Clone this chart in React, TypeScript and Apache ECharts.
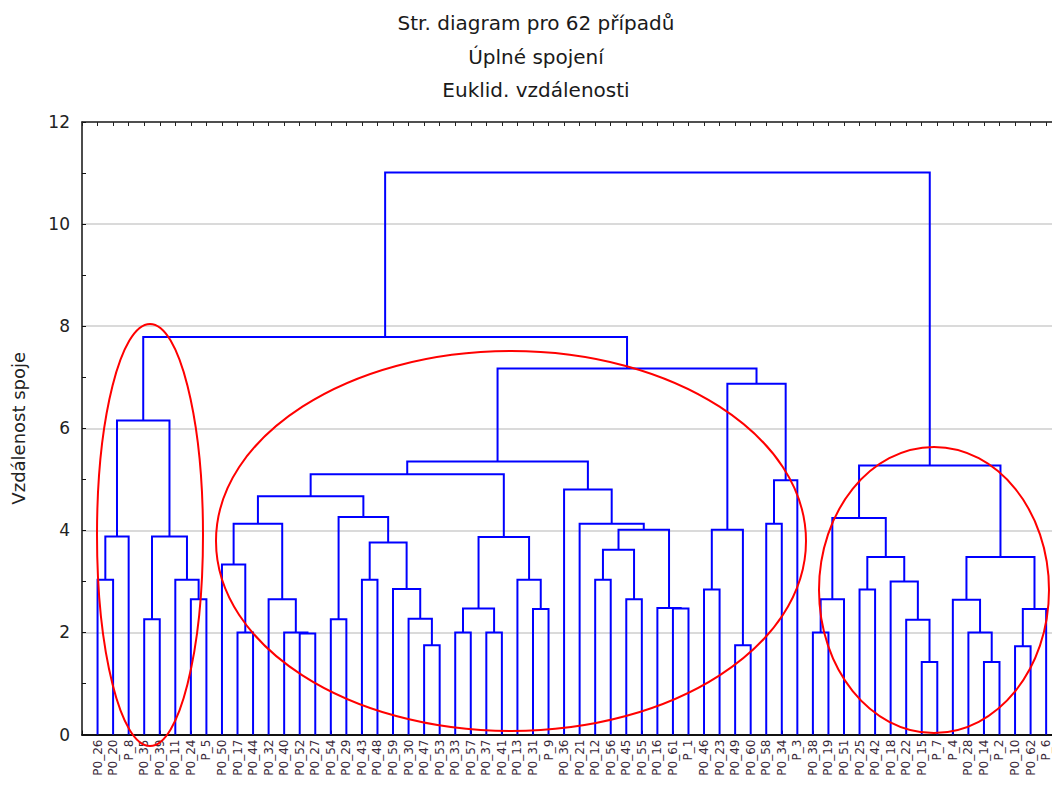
import React, { useEffect, useRef } from "react";
import * as echarts from "echarts";

const titleLines = ["Str. diagram pro 62 případů", "Úplné spojení", "Euklid. vzdálenosti"];
const yAxisName = "Vzdálenost spoje";

// leaf (case) labels in dendrogram order (illegible in the source, estimated)
const leafNumbers = [
  26, 20, 8, 35, 39, 11, 24, 5, 50, 17, 44, 32, 40, 52, 27, 54, 29, 43, 48, 59, 30,
  47, 53, 33, 57, 37, 41, 13, 31, 9, 36, 21, 12, 56, 45, 55, 16, 61, 1, 46, 23,
  49, 60, 58, 34, 3, 38, 19, 51, 25, 42, 18, 22, 15, 7, 4, 28, 14, 2, 10, 62, 6,
];
const leafLabels = leafNumbers.map((n) => (n < 10 ? `P_${n}` : `P0_${n}`));

// merges: nodes 0..61 are leaves (display order), merge k creates node 62 + k
const mergeA = [
  0, 62, 3, 6, 5, 64, 63,
  9, 8, 13, 12, 11, 70, 15, 17, 21, 20, 19, 76, 75, 74,
  23, 25, 83, 28, 27, 85, 82,
  32, 34, 90, 37, 36, 92, 31, 30, 89,
  39, 41, 99, 43, 102, 101, 98, 68,
  46, 107, 49, 53, 52, 51, 109, 108,
  57, 56, 55, 59, 118, 117, 114, 106,
];
const mergeB = [
  1, 2, 4, 7, 65, 66, 67,
  10, 69, 14, 71, 72, 73, 16, 18, 22, 77, 78, 79, 80, 81,
  24, 26, 84, 29, 86, 87, 88,
  33, 35, 91, 38, 93, 94, 95, 96, 97,
  40, 42, 100, 44, 45, 103, 104, 105,
  47, 48, 50, 54, 110, 111, 112, 113,
  58, 115, 116, 60, 61, 119, 120, 121,
];
const mergeHeight = [
  3.03, 3.88, 2.26, 2.65, 3.03, 3.88, 6.15,
  2.0, 3.33, 1.98, 2.0, 2.65, 4.13, 2.26, 3.03, 1.75, 2.27, 2.85, 3.76, 4.26, 4.67,
  2.0, 2.0, 2.47, 2.46, 3.03, 3.87, 5.1,
  3.03, 2.65, 3.62, 2.47, 2.48, 4.01, 4.13, 4.8, 5.35,
  2.84, 1.75, 4.01, 4.13, 4.98, 6.87, 7.17, 7.79,
  2.0, 2.65, 2.84, 1.42, 2.25, 3.0, 3.48, 4.24,
  1.42, 2.0, 2.64, 1.73, 2.46, 3.48, 5.27, 11.01,
];

// highlighted groups (red ellipses), pixel geometry of the annotation
const ellipses = [
  { cx: 150, cy: 535, rx: 53, ry: 211 },
  { cx: 511, cy: 541, rx: 295, ry: 190 },
  { cx: 934, cy: 590, rx: 115, ry: 143 },
];

const FONT = "DejaVu Sans";

export default function App() {
  const ref = useRef<HTMLDivElement>(null);

  useEffect(() => {
    if (!ref.current) return;
    const chart = echarts.init(ref.current, undefined, { renderer: "svg" });

    const nodeX: number[] = leafLabels.map((_, i) => i);
    const nodeH: number[] = leafLabels.map(() => 0);
    const links = mergeA.map((a, k) => {
      const b = mergeB[k];
      const h = mergeHeight[k];
      const coords = [
        [nodeX[a], nodeH[a]],
        [nodeX[a], h],
        [nodeX[b], h],
        [nodeX[b], nodeH[b]],
      ];
      nodeX.push((nodeX[a] + nodeX[b]) / 2);
      nodeH.push(h);
      return { coords };
    });

    const titleY = [23, 56.5, 90];

    chart.setOption({
      animation: false,
      backgroundColor: "#ffffff",
      grid: { left: 82, right: -9.7, top: 122, bottom: 63.5, containLabel: false, outerBoundsMode: "none" },
      xAxis: [
        {
          type: "value",
          position: "bottom",
          min: -1,
          max: 62,
          interval: 1,
          axisLine: { show: true, onZero: false, lineStyle: { color: "#111", width: 2 } },
          axisTick: { show: true, inside: true, length: 4, lineStyle: { color: "#111", width: 1 } },
          splitLine: { show: false },
          axisLabel: {
            show: true,
            rotate: 90,
            margin: 5,
            fontSize: 12,
            fontFamily: FONT,
            color: "#3a2a3a",
            formatter: (v: number) => {
              const i = Math.round(v);
              return i >= 0 && i < leafLabels.length ? leafLabels[i] : "";
            },
          },
        },
        {
          type: "value",
          position: "top",
          min: -1,
          max: 62,
          interval: 1,
          axisLine: { show: true, onZero: false, lineStyle: { color: "#222", width: 1.5 } },
          axisTick: { show: true, inside: true, length: 4, lineStyle: { color: "#222", width: 1 } },
          axisLabel: { show: false },
          splitLine: { show: false },
        },
      ],
      yAxis: {
        type: "value",
        position: "left",
        min: 0,
        max: 12,
        interval: 2,
        name: yAxisName,
        nameLocation: "middle",
        nameRotate: 90,
        nameGap: 55,
        nameTextStyle: { fontSize: 18, fontFamily: FONT, color: "#222" },
        axisLine: { show: true, onZero: false, lineStyle: { color: "#111", width: 1.5 } },
        axisTick: { show: true, inside: true, length: 4, lineStyle: { color: "#111" } },
        minorTick: { show: true, splitNumber: 2, length: 4, lineStyle: { color: "#111" } },
        axisLabel: { fontSize: 17, fontFamily: FONT, color: "#222", margin: 12 },
        splitLine: { show: true, lineStyle: { color: "#dadada", width: 2 } },
      },
      series: [
        {
          type: "lines",
          coordinateSystem: "cartesian2d",
          xAxisIndex: 0,
          yAxisIndex: 0,
          polyline: true,
          silent: true,
          data: links,
          lineStyle: { color: "#0000ff", width: 2, opacity: 1 },
          z: 5,
        },
      ],
      graphic: [
        ...titleLines.map((t, i) => ({
          type: "text",
          x: 536,
          y: titleY[i],
          z: 100,
          style: {
            text: t,
            fontSize: 20,
            fontFamily: FONT,
            fill: "#1a1a1a",
            textAlign: "center",
            textVerticalAlign: "middle",
            align: "center",
            verticalAlign: "middle",
          },
        })),
        ...ellipses.map((e) => ({
          type: "ellipse",
          z: 100,
          silent: true,
          shape: { cx: e.cx, cy: e.cy, rx: e.rx, ry: e.ry },
          style: { fill: "none", stroke: "#ff0000", lineWidth: 2 },
        })),
      ],
    });

    return () => chart.dispose();
  }, []);

  return (
    <div
      ref={ref}
      style={{ position: "absolute", left: 0, top: 0, width: 1052, height: 798, background: "#fff" }}
    />
  );
}
